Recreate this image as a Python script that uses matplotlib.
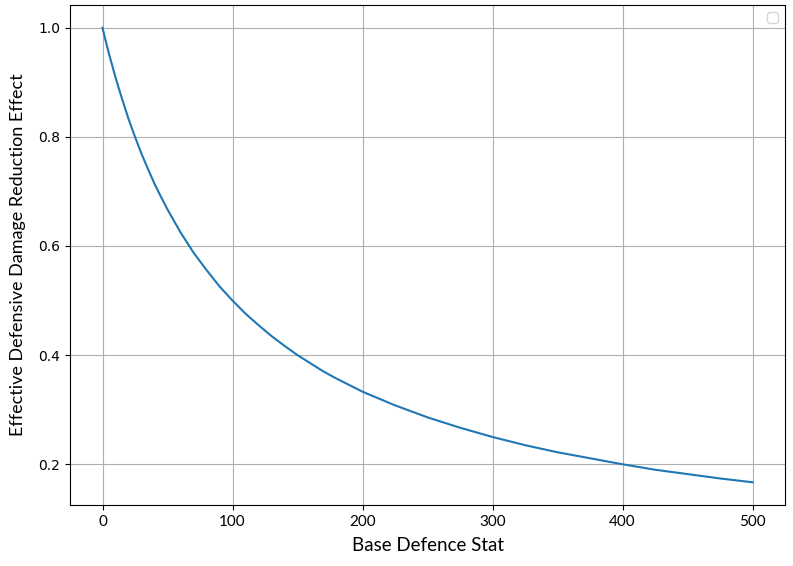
import matplotlib
matplotlib.use("Agg")
import matplotlib.pyplot as plt

# values
defence = [0, 2, 5, 7, 10, 12, 15, 20, 25, 30, 35, 40, 45, 50, 60, 70, 80,
           90, 100, 110, 120, 130, 140, 150, 160, 170, 180, 190, 200, 225,
           250, 275, 300, 325, 350, 375, 400, 425, 450, 475, 500]
reduction = [1.0, 0.980, 0.952, 0.935, 0.909, 0.893, 0.870, 0.833, 0.800,
             0.769, 0.741, 0.714, 0.690, 0.667, 0.625, 0.588, 0.556, 0.526,
             0.500, 0.476, 0.455, 0.435, 0.417, 0.400, 0.385, 0.370, 0.357,
             0.345, 0.333, 0.308, 0.286, 0.267, 0.250, 0.235, 0.222, 0.211,
             0.200, 0.190, 0.182, 0.174, 0.167]

fig = plt.figure(figsize=(7.93, 5.66), dpi=100)
ax = fig.add_axes([70 / 793, 1 - 505 / 566, 715 / 793, 500 / 566])

ax.plot(defence, reduction, color="#1f77b4", linewidth=1.5)
ax.grid(True)
ax.legend()

ax.set_xlabel("Base Defence Stat", fontsize=13.5, family="Lato", labelpad=6)
ax.set_ylabel("Effective Defensive Damage Reduction Effect", fontsize=13,
              family="Lato", labelpad=9)
ax.tick_params(labelsize=10)
for lbl in ax.get_xticklabels():
    lbl.set_family("Lato")
    lbl.set_fontsize(11)

fig.savefig("out.png", dpi=100)
